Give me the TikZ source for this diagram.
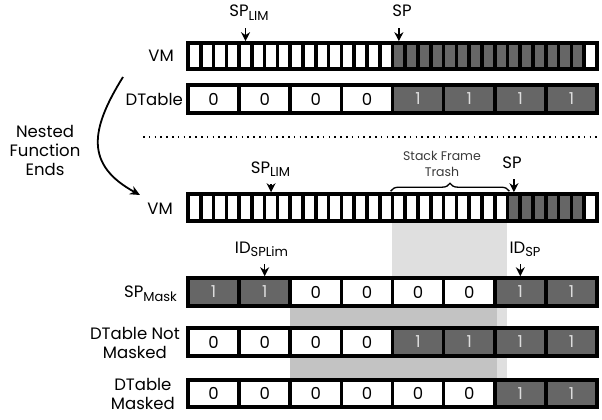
\documentclass[tikz,border=0pt]{standalone}
\usepackage{fontspec}
\setmainfont{Poppins}
\usetikzlibrary{positioning,arrows.meta,decorations.pathreplacing}
\definecolor{cellgray}{HTML}{666666}
\definecolor{onegray}{HTML}{DCDCDC}
\definecolor{trashgray}{HTML}{DFDFDF}
\definecolor{maskgray}{HTML}{C3C3C3}
\definecolor{notegray}{HTML}{3A3A3A}
\newcommand{\lowsub}[1]{\raisebox{-3.5pt}{\fontsize{13}{13}\selectfont #1}}
\tikzset{vmcell/.style={draw, line width=3.6pt, minimum width=12.78pt, minimum height=26pt, inner sep=0pt, fill=white}}
\tikzset{bitcell/.style={draw, line width=3.6pt, minimum width=51.125pt, minimum height=28pt, inner sep=0pt, font=\fontsize{16.5}{18}\selectfont}}
\tikzset{bit0/.style={fill=white, text=black}}
\tikzset{bit1/.style={fill=cellgray, text=onegray}}
\tikzset{rowlbl/.style={anchor=east, inner sep=0pt, align=center, font=\fontsize{16.5}{19}\selectfont}}
\tikzset{ptrlbl/.style={anchor=base, inner sep=0pt, text depth=4pt, font=\fontsize{16.5}{19}\selectfont}}
\tikzset{ptr/.style={draw, -{Stealth[length=9pt,width=9pt]}, line width=1.6pt, shorten <=7pt}}

\begin{document}
\begin{tikzpicture}[x=1pt,y=-1pt]
\useasboundingbox (0,0) rectangle (602,420);
% shaded areas behind the lower rows
\fill[trashgray] (392,222) rectangle (507,380);
\fill[maskgray] (290,307) rectangle (497,380);

% before: stack and dirty table
\foreach \i in {0,...,15,31}
  \node[vmcell] (vmtop-\i) at ({188+(\i+0.5)*12.78},56) {};
\foreach \i in {16,...,30}
  \node[vmcell, fill=cellgray] (vmtop-\i) at ({188+(\i+0.5)*12.78},56) {};
\foreach \b [count=\i from 0] in {0,0,0,0,1,1,1,1}
  \node[bitcell, bit\b] (dttop-\i) at ({188+(\i+0.5)*51.125},99) {\b};

\node[rowlbl] (vmtoplbl) at (174,56) {VM};
\node[rowlbl] (dttoplbl) at (183,99) {DTable};
\node[ptrlbl] (splimtop) at (249,17) {SP\lowsub{LIM}};
\node[ptrlbl] (sptop) at (402,17) {SP};
\draw[ptr] (splimtop.south -| vmtop-4.north) -- (vmtop-4.north);
\draw[ptr] (sptop.south -| vmtop-16.north) -- (vmtop-16.north);

\coordinate (sepL) at (143,137);
\coordinate (sepR) at (600,137);
\draw[line width=1.6pt, dash pattern=on 1.6pt off 4.2pt] (sepL) -- (sepR);

% transition
\node[rowlbl, anchor=center] (nested) at (45,150) {Nested\\Function\\Ends};
\coordinate (nfA) at (123,77);
\coordinate (nfB) at (140,195);
\draw[line width=1.8pt, -{Stealth[length=10pt,width=9pt]}] (nfA) .. controls (90,130) and (85,165) .. (nfB);

% after: stack and masks
\foreach \i in {0,...,24,31}
  \node[vmcell, minimum height=27pt] (vmbot-\i) at ({188+(\i+0.5)*12.78},207.5) {};
\foreach \i in {25,...,30}
  \node[vmcell, minimum height=27pt, fill=cellgray] (vmbot-\i) at ({188+(\i+0.5)*12.78},207.5) {};
\node[rowlbl] (vmbotlbl) at (173,209) {VM};
\node[ptrlbl] (splimbot) at (270.5,173) {SP\lowsub{LIM}};
\node[ptrlbl] (spbot) at (512,168) {SP};
\draw[ptr] (splimbot.south -| vmbot-6.north) -- (vmbot-6.north);
\draw[ptr] (spbot.south -| vmbot-25.north) -- (vmbot-25.north);
\draw[line width=1.3pt, decorate, decoration={brace, amplitude=8pt}]
  ([yshift=1pt]vmbot-16.north west) -- ([yshift=1pt]vmbot-24.north east);
\node[align=center, inner sep=0pt, text=notegray, font=\fontsize{12.5}{15.5}\selectfont] (trash) at (442,164) {Stack Frame\\Trash};

\foreach \b [count=\i from 0] in {1,1,0,0,0,0,1,1}
  \node[bitcell, bit\b] (mask-\i) at ({188+(\i+0.5)*51.125},292) {\b};
\foreach \b [count=\i from 0] in {0,0,0,0,1,1,1,1}
  \node[bitcell, bit\b] (dtnm-\i) at ({188+(\i+0.5)*51.125},342) {\b};
\foreach \b [count=\i from 0] in {0,0,0,0,0,0,1,1}
  \node[bitcell, bit\b, minimum height=27pt] (dtm-\i) at ({188+(\i+0.5)*51.125},393.5) {\b};

\node[rowlbl, anchor=base east] (masklbl) at (177,297.5) {SP\lowsub{Mask}};
\node[rowlbl] (dtnmlbl) at (180,343) {DTable Not\\Masked};
\node[rowlbl] (dtmlbl) at (175,394) {DTable\\Masked};
\node[ptrlbl] (idlim) at (261.5,253) {ID\lowsub{SPLim}};
\node[ptrlbl] (idsp) at (525,253) {ID\lowsub{SP}};
\draw[ptr] (idlim.south -| mask-1.north) -- (mask-1.north);
\draw[ptr] (idsp.south -| mask-6.north) -- (mask-6.north);
\end{tikzpicture}
\end{document}
